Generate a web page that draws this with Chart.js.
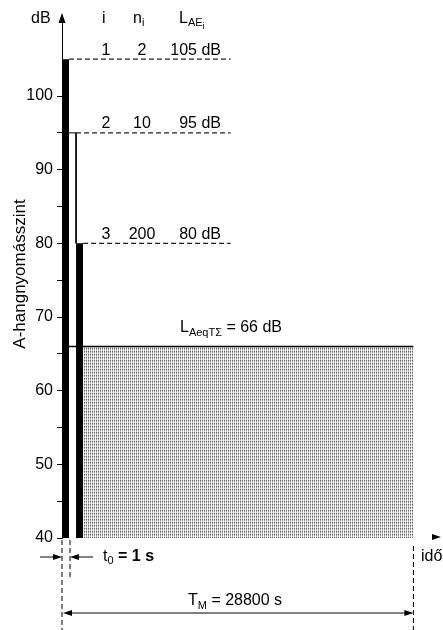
<!DOCTYPE html>
<html>
<head>
<meta charset="utf-8">
<script src="https://cdn.jsdelivr.net/npm/chart.js@4.4.0/dist/chart.umd.min.js"></script>
<style>
  body { margin: 0; background: #fff; }
  #wrap { width: 443px; height: 630px; }
</style>
</head>
<body>
<div id="wrap"><canvas id="nchart" width="443" height="630"></canvas></div>
<script>
// events: index, number of occurrences, sound exposure level
const eventIdx = ['1', '2', '3'];
const eventCount = ['2', '10', '200'];
const eventLevel = [105, 95, 80];
const barFill = ['#000', '#fff', '#000'];
// equivalent level over the whole measuring time
const eqLevel = 66;
const eqLabel = '66 dB';
const baseLevel = 40;
const yTicks = [40, 45, 50, 55, 60, 65, 70, 75, 80, 85, 90, 95, 100];
const t0Text = '1 s';
const tmText = '28800 s';

const FONT = 'Liberation Sans, Arial, sans-serif';
const T_END = 50; // end of measuring time, in t0 units of the sketch

var canvas = document.getElementById('nchart');
var ctx = canvas.getContext('2d');

// dotted raster for the averaged area (thin vertical dot rows)
var pc = document.createElement('canvas');
pc.width = 2; pc.height = 3;
var pg = pc.getContext('2d');
pg.fillStyle = '#fff'; pg.fillRect(0, 0, 2, 3);
pg.fillStyle = '#6a6a6a'; pg.fillRect(0, 0, 1, 1);
pg.fillStyle = '#999'; pg.fillRect(0, 1, 1, 1);
pg.fillStyle = '#c8c8c8'; pg.fillRect(0, 2, 1, 1);
pg.fillStyle = '#e6e6e6'; pg.fillRect(1, 0, 1, 1);
var raster = ctx.createPattern(pc, 'repeat');

let datasets = [];

// averaged level block
datasets.push({
  data: [{x: eventIdx.length, y: eqLevel}, {x: T_END, y: eqLevel}],
  borderWidth: 0, borderColor: 'rgba(0,0,0,0)',
  backgroundColor: raster, fill: {value: baseLevel}, order: 5
});
// line on top of it
datasets.push({
  data: [{x: 0.85, y: eqLevel}, {x: T_END, y: eqLevel}],
  borderColor: '#000', borderWidth: 1.6, fill: false, order: 1
});

eventLevel.forEach((lv, i) => {
  // the event bar
  datasets.push({
    data: [{x: i, y: lv}, {x: i + 1, y: lv}],
    borderWidth: 0, borderColor: 'rgba(0,0,0,0)',
    backgroundColor: barFill[i], fill: {value: baseLevel}, order: 4
  });
  if (barFill[i] === '#fff') {
    datasets.push({
      data: [{x: i, y: lv}, {x: i + 1, y: lv}, {x: i + 1, y: eventLevel[i + 1]}],
      borderColor: '#000', borderWidth: 1, fill: false, order: 3
    });
  }
  // dashed reference line
  datasets.push({
    data: [{x: i + 1, y: lv}, {x: 24, y: lv}],
    borderColor: '#222', borderWidth: 1.2, borderDash: [5, 3], fill: false, order: 2
  });
});

function txt(c, parts, x, y) {
  // parts: [text, size, dy]
  let cx = x;
  parts.forEach(p => {
    c.font = p[1] + 'px ' + FONT;
    c.fillText(p[0], cx, y + (p[2] || 0));
    cx += c.measureText(p[0]).width;
  });
  return cx;
}

function arrow(c, x, y, dir) {
  c.beginPath();
  if (dir === 'up') { c.moveTo(x, y); c.lineTo(x - 3.5, y + 10); c.lineTo(x + 3.5, y + 10); }
  if (dir === 'right') { c.moveTo(x, y); c.lineTo(x - 9, y - 3); c.lineTo(x - 9, y + 3); }
  if (dir === 'left') { c.moveTo(x, y); c.lineTo(x + 9, y - 3); c.lineTo(x + 9, y + 3); }
  c.closePath();
  c.fill();
}

const notes = {
  id: 'notes',
  afterDraw(chart) {
    const c = chart.ctx, xs = chart.scales.x, ys = chart.scales.y;
    const x0 = xs.getPixelForValue(0), x1 = xs.getPixelForValue(1);
    const xe = xs.getPixelForValue(T_END);
    const yb = ys.getPixelForValue(baseLevel);
    c.save();
    c.fillStyle = '#000'; c.strokeStyle = '#000';
    c.textBaseline = 'middle';

    // axis arrows and unit
    arrow(c, x0, 13, 'up');
    arrow(c, 441, yb - 1, 'right');
    c.textAlign = 'left';
    txt(c, [['dB', 16]], 31, 19);

    // table header
    txt(c, [['i', 16]], 102, 19);
    txt(c, [['n', 16], ['i', 11, 4]], 133, 19);
    txt(c, [['L', 16], ['AE', 11, 4], ['i', 9, 8]], 179, 19);

    // one row per event
    eventLevel.forEach((lv, i) => {
      const y = ys.getPixelForValue(lv) - 9;
      c.font = '16px ' + FONT;
      c.textAlign = 'center';
      c.fillText(eventIdx[i], 106, y);
      c.fillText(eventCount[i], 142, y);
      c.textAlign = 'right';
      c.fillText(lv + ' dB', 221, y);
    });

    // equivalent level label
    c.textAlign = 'left';
    const ye = ys.getPixelForValue(eqLevel) - 19;
    let ex = txt(c, [['L', 16], ['AeqT\u03A3', 11, 5]], 180, ye);
    txt(c, [[' = ' + eqLabel, 16]], ex, ye);

    // y axis title
    c.save();
    c.translate(20, 274);
    c.rotate(-Math.PI / 2);
    c.textAlign = 'center';
    c.font = '17px ' + FONT;
    c.fillText('A-hangnyomásszint', 0, 0);
    c.restore();

    // dashed time markers
    c.lineWidth = 1;
    c.setLineDash([5, 3]);
    c.beginPath();
    c.moveTo(x0, yb + 2); c.lineTo(x0, 630);
    c.moveTo(x1 + 1, yb + 2); c.lineTo(x1 + 1, 577);
    c.moveTo(xe, yb + 8); c.lineTo(xe, 630);
    c.stroke();
    c.setLineDash([]);

    // t0 dimension
    const yt = 557;
    c.beginPath();
    c.moveTo(40, yt); c.lineTo(x0 - 6, yt);
    c.moveTo(x1 + 7, yt); c.lineTo(93, yt);
    c.stroke();
    arrow(c, x0, yt, 'right');
    arrow(c, x1 + 1, yt, 'left');
    c.textAlign = 'left';
    let tx = txt(c, [['t', 16], ['0', 11, 4]], 103, yt);
    c.font = 'bold 16px ' + FONT;
    c.fillText(' = ' + t0Text, tx, yt);

    // time axis label
    c.font = '16px ' + FONT;
    c.fillText('idő', 421, 557);

    // measuring time
    const ym = 613;
    c.beginPath();
    c.moveTo(x0 + 6, ym); c.lineTo(xe - 6, ym);
    c.stroke();
    arrow(c, x0 + 1, ym, 'left');
    arrow(c, xe, ym, 'right');
    let mx = txt(c, [['T', 16], ['M', 11, 5]], 188, 601);
    txt(c, [[' = ' + tmText, 16]], mx, 601);

    c.restore();
  }
};

new Chart(canvas, {
  type: 'line',
  data: { datasets: datasets },
  options: {
    responsive: false,
    animation: false,
    layout: { padding: { left: 0, right: 5, top: 15, bottom: 92 } },
    elements: { point: { radius: 0 }, line: { tension: 0 } },
    plugins: { legend: { display: false }, tooltip: { enabled: false } },
    scales: {
      x: { type: 'linear', min: 0, max: 53.5, display: false },
      y: {
        type: 'linear', min: 40, max: 111,
        afterBuildTicks: s => { s.ticks = yTicks.map(v => ({value: v})); },
        afterFit: s => { s.width = 62; },
        ticks: {
          color: '#000', padding: 4, font: { size: 16, family: FONT },
          callback: v => (v % 10 === 0 ? v : '')
        },
        grid: { drawOnChartArea: false, tickLength: 5, tickColor: '#000' },
        border: { color: '#000', width: 1 }
      }
    }
  },
  plugins: [notes]
});
</script>
</body>
</html>
